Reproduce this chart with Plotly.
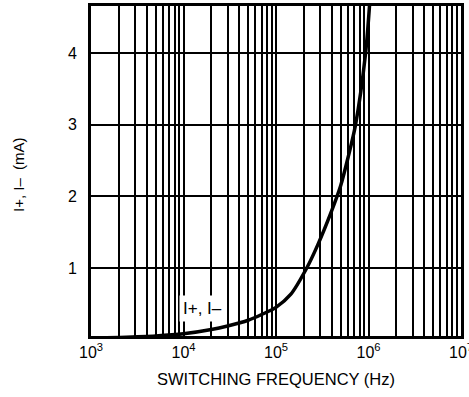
import plotly.graph_objects as go

# Data
freq_hz = [1e3, 2e3, 5e3, 1e4, 2e4, 3e4, 5e4, 7e4, 1.0e5, 1.44e5, 2.15e5,
           2.82e5, 3.89e5, 5.0e5, 6.03e5, 7.24e5, 9.3e5, 1.03e6]
current_ma = [0.02, 0.03, 0.05, 0.08, 0.14, 0.19, 0.27, 0.35, 0.45, 0.63, 1.0,
              1.32, 1.76, 2.15, 2.55, 3.0, 4.0, 4.7]

decades = [3, 4, 5, 6, 7]
y_ticks = [1, 2, 3, 4]
curve_label = "I+, I–"
x_title = "SWITCHING FREQUENCY (Hz)"
y_title = "I+, I–  (mA)"

# tick positions: every 1..9 x 10^k, labelled only at decades
tickvals, ticktext = [], []
for d in decades:
    for m in range(1, 10):
        if d == decades[-1] and m > 1:
            break
        tickvals.append(m * 10 ** d)
        ticktext.append(f"10<sup>{d}</sup>" if m == 1 else "")

FONT = "Liberation Sans"

fig = go.Figure()
fig.add_trace(go.Scatter(
    x=freq_hz, y=current_ma, mode="lines",
    line=dict(color="black", width=3.5, shape="spline", smoothing=0.8),
    showlegend=False, hoverinfo="skip",
))

fig.add_annotation(
    x=4.2, y=0.44, xref="x", yref="y", text=curve_label, showarrow=False,
    bgcolor="white", font=dict(size=17, color="black", family=FONT),
    borderpad=3,
)

# y-axis title (plot area spans x 91..461, y 6..336 px)
fig.add_annotation(
    x=(18 - 91) / 370, y=(336 - 175) / 330, xref="paper", yref="paper",
    text=y_title, showarrow=False, textangle=-90,
    xanchor="center", yanchor="middle",
    font=dict(size=15, color="black", family=FONT),
)

fig.update_layout(
    width=469, height=397,
    margin=dict(l=91, r=8, t=6, b=61, autoexpand=False),
    paper_bgcolor="white", plot_bgcolor="white",
    font=dict(family=FONT, color="black"),
    xaxis=dict(
        type="log", range=[3, 7], automargin=False,
        tickmode="array", tickvals=tickvals, ticktext=ticktext,
        showgrid=True, gridcolor="black", gridwidth=2,
        showline=True, linecolor="black", linewidth=3, mirror=True,
        ticks="", tickfont=dict(size=16, color="black"),
        ticklabeloverflow="allow",
        title=dict(text=x_title, font=dict(size=16.5, color="black"), standoff=14),
        zeroline=False,
    ),
    yaxis=dict(
        range=[0.05, 4.66], automargin=False,
        tickmode="array", tickvals=y_ticks, ticktext=[str(v) for v in y_ticks],
        showgrid=True, gridcolor="black", gridwidth=2,
        showline=True, linecolor="black", linewidth=3, mirror=True,
        ticks="", ticklabelstandoff=8,
        tickfont=dict(size=16, color="black"),
        zeroline=False,
    ),
)

fig.write_html(
    "out.html",
    config={"displayModeBar": False},
    post_script="document.body.style.margin='0';document.body.style.overflow='hidden';",
)
